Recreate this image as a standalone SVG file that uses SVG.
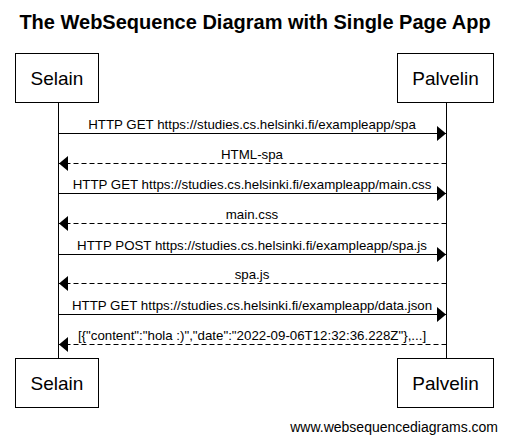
<svg xmlns="http://www.w3.org/2000/svg" width="508" height="442" viewBox="0 0 508 442">
<style>
text{font-family:"Liberation Sans",Arial,sans-serif;fill:#000}
.box{fill:#fff;stroke:#000;stroke-width:1}
.life{stroke:#000;stroke-width:1}
.msg{stroke:#000;stroke-width:1;fill:none}
.ret{stroke-dasharray:5 3}
.lbl{font-size:13.3px;text-anchor:middle}
.nm{font-size:19px;text-anchor:middle}
</style>
<defs>
<marker id="ah" viewBox="0 0 9 15" refX="9" refY="7.5" markerWidth="9" markerHeight="15" markerUnits="userSpaceOnUse" orient="auto">
<path d="M0,0 L9,7.5 L0,15 Z" fill="#000"/>
</marker>
</defs>
<rect width="508" height="442" fill="#fff"/>
<text x="255" y="29" font-size="20" font-weight="bold" text-anchor="middle">The WebSequence Diagram with Single Page App</text>
<g id="lifelines">
<line class="life" x1="58.5" y1="102" x2="58.5" y2="358"/>
<line class="life" x1="446.5" y1="102" x2="446.5" y2="358"/>
</g>
<g id="connectors">
<line class="msg" x1="58.5" y1="133.5" x2="446" y2="133.5" marker-end="url(#ah)"/>
<text class="lbl" x="252" y="129">HTTP GET https://studies.cs.helsinki.fi/exampleapp/spa</text>
<line class="msg ret" x1="446.5" y1="163.5" x2="59" y2="163.5" marker-end="url(#ah)"/>
<text class="lbl" x="252" y="159">HTML-spa</text>
<line class="msg" x1="58.5" y1="193.5" x2="446" y2="193.5" marker-end="url(#ah)"/>
<text class="lbl" x="252" y="189">HTTP GET https://studies.cs.helsinki.fi/exampleapp/main.css</text>
<line class="msg ret" x1="446.5" y1="223.5" x2="59" y2="223.5" marker-end="url(#ah)"/>
<text class="lbl" x="252" y="219">main.css</text>
<line class="msg" x1="58.5" y1="254.5" x2="446" y2="254.5" marker-end="url(#ah)"/>
<text class="lbl" x="252" y="250">HTTP POST https://studies.cs.helsinki.fi/exampleapp/spa.js</text>
<line class="msg ret" x1="446.5" y1="283.5" x2="59" y2="283.5" marker-end="url(#ah)"/>
<text class="lbl" x="252" y="279">spa.js</text>
<line class="msg" x1="58.5" y1="314.5" x2="446" y2="314.5" marker-end="url(#ah)"/>
<text class="lbl" x="252" y="310">HTTP GET https://studies.cs.helsinki.fi/exampleapp/data.json</text>
<line class="msg ret" x1="446.5" y1="344.5" x2="59" y2="344.5" marker-end="url(#ah)"/>
<text class="lbl" x="252" y="340">[{"content":"hola :)","date":"2022-09-06T12:32:36.228Z"},...]</text>
</g>
<g id="selain-top">
<rect class="box" x="15.5" y="53.5" width="83" height="49"/>
<text class="nm" x="57" y="85">Selain</text>
</g>
<g id="palvelin-top">
<rect class="box" x="397.5" y="53.5" width="96" height="49"/>
<text class="nm" x="445.5" y="85">Palvelin</text>
</g>
<g id="selain-bottom">
<rect class="box" x="15.5" y="358.5" width="83" height="49"/>
<text class="nm" x="57" y="390">Selain</text>
</g>
<g id="palvelin-bottom">
<rect class="box" x="397.5" y="358.5" width="96" height="49"/>
<text class="nm" x="445.5" y="390">Palvelin</text>
</g>
<text x="498" y="432" font-size="14" text-anchor="end">www.websequencediagrams.com</text>
</svg>
